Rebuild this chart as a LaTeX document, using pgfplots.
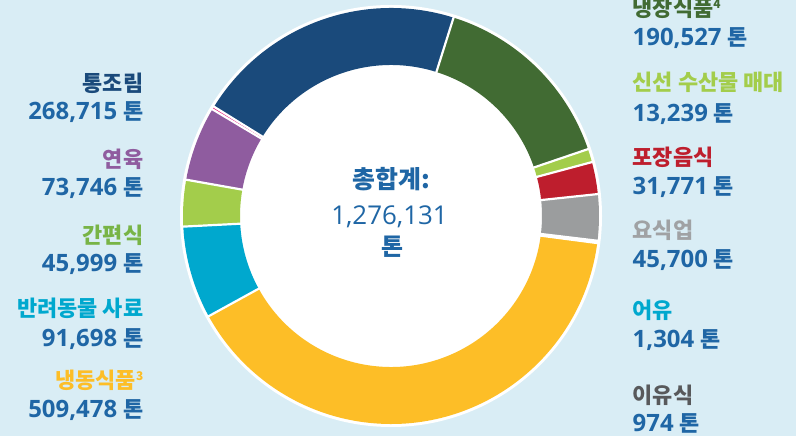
\documentclass[border=0pt]{standalone}
\usepackage{pgfplots}
\usepackage{pgfplotstable}
\pgfplotsset{compat=1.18}
\usepackage{fontspec}
\setmainfont{Noto Sans CJK KR}
\newfontfamily\numfont{Open Sans}
\definecolor{bg}{HTML}{D9EDF5}
\definecolor{cNavy}{HTML}{1A4A7B}
\definecolor{cChill}{HTML}{416B33}
\definecolor{cLight}{HTML}{A3CD4B}
\definecolor{cRed}{HTML}{BE1E2D}
\definecolor{cGray}{HTML}{9B9D9E}
\definecolor{cYellow}{HTML}{FDBE27}
\definecolor{cCyan}{HTML}{00A8CE}
\definecolor{cPurple}{HTML}{8F5C9F}
\definecolor{cPink}{HTML}{E8167A}
\definecolor{cDGray}{HTML}{58595B}
\definecolor{cNum}{HTML}{1F66A5}
\definecolor{tReady}{HTML}{78B446}
\definecolor{tGray}{HTML}{A0A2A4}

\pgfplotstableread[col sep=comma]{
key,value,color
chilled,190527,cChill
freshseafood,13239,cLight
takeout,31771,cRed
foodservice,45700,cGray
fishoil,1304,cCyan
babyfood,974,cDGray
frozen,509478,cYellow
petfood,91698,cCyan
readymeals,45999,cLight
surimi,73746,cPurple
other,2980,cPink
canned,268715,cNavy
}\slices

\pgfplotstablegetrowsof{\slices}
\pgfmathtruncatemacro\lastrow{\pgfplotsretval-1}
\gdef\total{0}
\pgfplotsforeachungrouped \i in {0,...,\lastrow}{%
  \pgfplotstablegetelem{\i}{value}\of\slices
  \xdef\total{\fpeval{\total+\pgfplotsretval}}%
}
\def\cx{391}
\def\cy{220}
\def\rout{208}
\def\rin{151}
\def\rw{57}
\def\startang{72.5}

\newcommand\klab[2]{\fontsize{22}{24}\selectfont\bfseries\color{#1}#2}
\newcommand\ton[1]{\bfseries\color{cNum}{\numfont\fontsize{24}{26}\selectfont #1}\hspace{6bp}{\fontsize{22}{24}\selectfont 톤}}
\newcommand\supnum[1]{\raisebox{8bp}{\fontsize{12}{12}\selectfont #1}}

\begin{document}
\begin{tikzpicture}
\begin{axis}[name=ax, at={(0,0)}, anchor=south west, scale only axis,
  width=796bp, height=436bp, xmin=0, xmax=796, ymin=0, ymax=436,
  hide axis, clip=false]
\fill[bg] (axis cs:0,0) rectangle (axis cs:796,436);
\fill[white] (axis cs:\cx,\cy) circle[radius=211bp];
\gdef\cum{0}
\pgfplotsforeachungrouped \i in {0,...,\lastrow}{%
  \pgfplotstablegetelem{\i}{value}\of\slices \let\val\pgfplotsretval
  \pgfplotstablegetelem{\i}{color}\of\slices \let\col\pgfplotsretval
  \edef\aS{\fpeval{round(\startang-360*\cum/\total,3)}}%
  \xdef\cum{\fpeval{\cum+\val}}%
  \edef\aE{\fpeval{round(\startang-360*\cum/\total,3)}}%
  \edef\tmp{\noexpand\fill[fill=\col] (axis cs:\cx,\cy) ++(\aS:\rout bp) arc[start angle=\aS,end angle=\aE,radius=\rout bp] -- ++(\aE:-\rw bp) arc[start angle=\aE,end angle=\aS,radius=\rin bp] -- cycle;}%
  \tmp
}
\gdef\cum{0}
\pgfplotsforeachungrouped \i in {0,...,\lastrow}{%
  \pgfplotstablegetelem{\i}{value}\of\slices \let\val\pgfplotsretval
  \edef\aS{\fpeval{round(\startang-360*\cum/\total,3)}}%
  \xdef\cum{\fpeval{\cum+\val}}%
  \edef\tmp{\noexpand\draw[white,line width=2.2bp] (axis cs:\cx,\cy) ++(\aS:\rin bp-1bp) -- ++(\aS:\rw bp+3bp);}%
  \tmp
}
% left labels
\node[anchor=base east, inner sep=0] at (axis cs:143.5,344) {\klab{cNavy}{통조림}};
\node[anchor=base east, inner sep=0] at (axis cs:143.5,316) {\ton{268,715}};
\node[anchor=base east, inner sep=0] at (axis cs:143.5,268) {\klab{cPurple}{연육}};
\node[anchor=base east, inner sep=0] at (axis cs:143.5,240) {\ton{73,746}};
\node[anchor=base east, inner sep=0] at (axis cs:143.5,192) {\klab{tReady}{간편식}};
\node[anchor=base east, inner sep=0] at (axis cs:143.5,164.5) {\ton{45,999}};
\node[anchor=base east, inner sep=0] at (axis cs:143.5,119) {\klab{cCyan}{반려동물 사료}};
\node[anchor=base east, inner sep=0] at (axis cs:143.5,89.5) {\ton{91,698}};
\node[anchor=base east, inner sep=0] at (axis cs:143.5,47) {\klab{cYellow}{냉동식품\supnum{3}}};
\node[anchor=base east, inner sep=0] at (axis cs:143.5,18) {\ton{509,478}};
% right labels
\node[anchor=base west, inner sep=0] at (axis cs:632.5,419) {\klab{cChill}{냉장식품\supnum{4}}};
\node[anchor=base west, inner sep=0] at (axis cs:632.5,390) {\ton{190,527}};
\node[anchor=base west, inner sep=0] at (axis cs:632.5,345) {\klab{cLight}{신선 수산물 매대}};
\node[anchor=base west, inner sep=0] at (axis cs:632.5,314.5) {\ton{13,239}};
\node[anchor=base west, inner sep=0] at (axis cs:632.5,270) {\klab{cRed}{포장음식}};
\node[anchor=base west, inner sep=0] at (axis cs:632.5,241) {\ton{31,771}};
\node[anchor=base west, inner sep=0] at (axis cs:632.5,197) {\klab{tGray}{요식업}};
\node[anchor=base west, inner sep=0] at (axis cs:632.5,168) {\ton{45,700}};
\node[anchor=base west, inner sep=0] at (axis cs:632.5,117) {\klab{cCyan}{어유}};
\node[anchor=base west, inner sep=0] at (axis cs:632.5,88) {\ton{1,304}};
\node[anchor=base west, inner sep=0] at (axis cs:632.5,32) {\klab{cDGray}{이유식}};
\node[anchor=base west, inner sep=0] at (axis cs:632.5,4.5) {\ton{974}};
% centre
\node[anchor=base, inner sep=0] at (axis cs:391,247) {\fontsize{25}{26}\selectfont\bfseries\color{cNum}총합계:};
\node[anchor=base, inner sep=0] at (axis cs:389.5,211) {\numfont\fontsize{26}{27}\selectfont\color{cNum}1,276,131};
\node[anchor=base, inner sep=0] at (axis cs:392,180) {\fontsize{24}{25}\selectfont\bfseries\color{cNum}톤};
\end{axis}
\pgfresetboundingbox
\path[use as bounding box] (ax.south west) rectangle (ax.north east);
\end{tikzpicture}
\end{document}
